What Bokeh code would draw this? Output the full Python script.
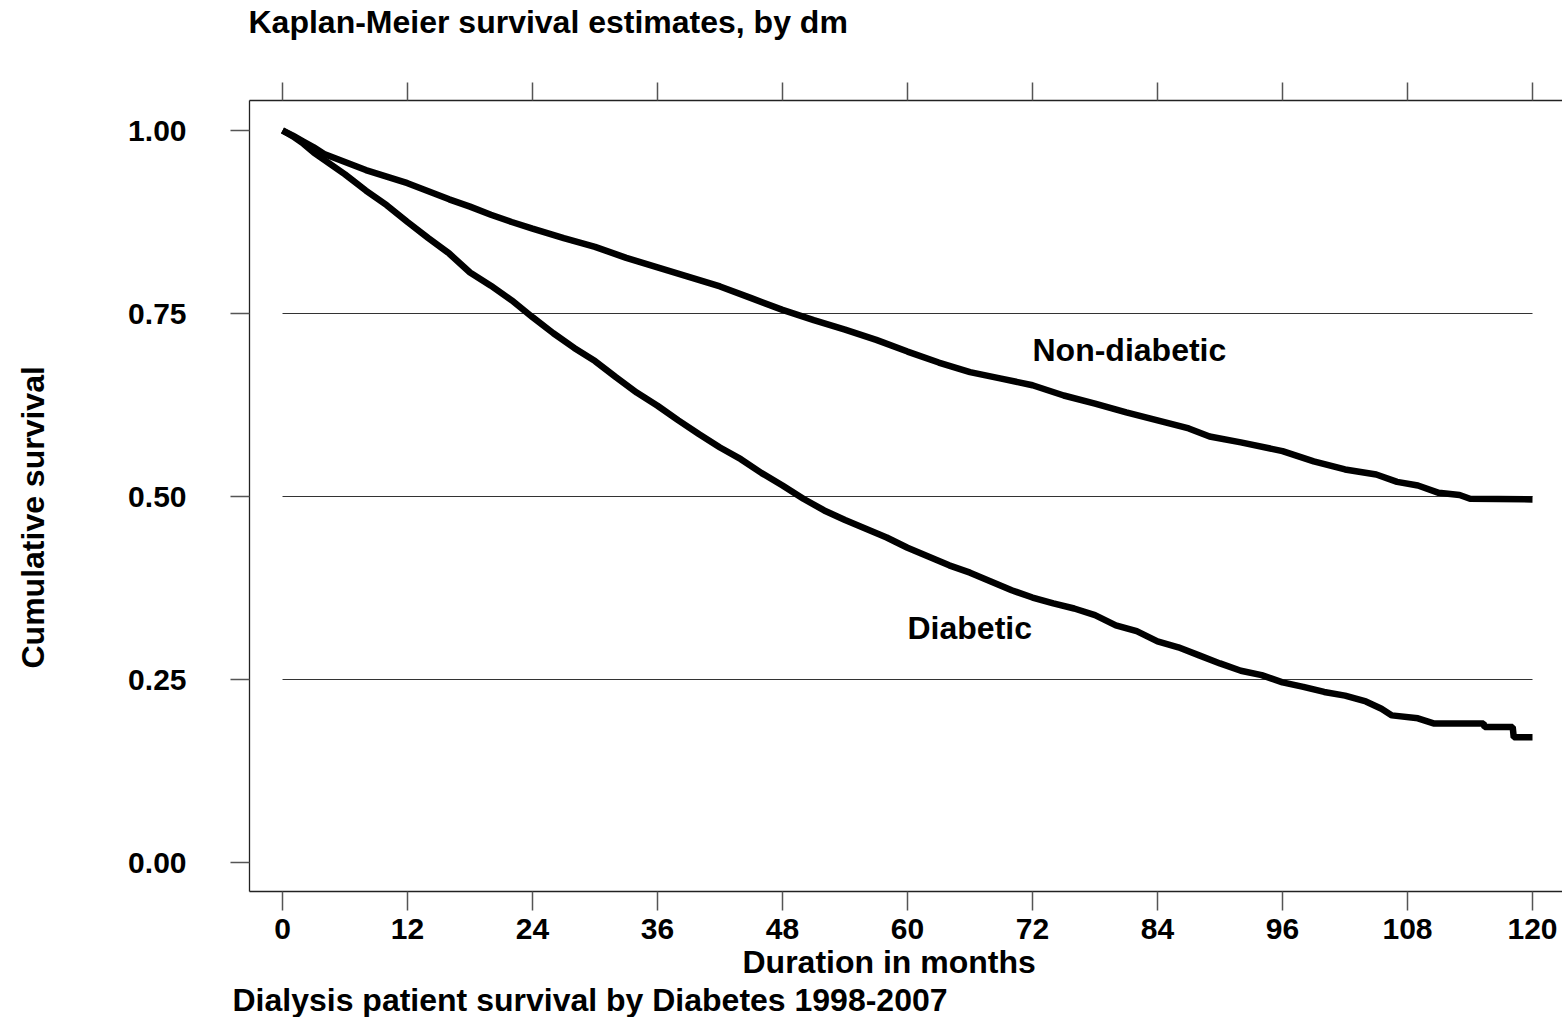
from bokeh.plotting import figure
from bokeh.models import Range1d, FixedTicker, LinearAxis, NumeralTickFormatter, Label, Title
from bokeh.embed import file_html
from bokeh.resources import INLINE

# ---- data ----
nondiab_months = [0, 1, 2, 3, 4, 6, 8, 10, 12, 14, 16, 18, 20, 22, 24, 27, 30, 33, 36, 39, 42, 45,
                  48, 51, 54, 57, 60, 63, 66, 69, 72, 75, 78, 81, 84, 87, 89, 92, 96, 99, 102, 105,
                  107, 109, 111, 113, 114, 120]
nondiab_surv = [1.000, 0.993, 0.985, 0.977, 0.968, 0.957, 0.946, 0.937, 0.928, 0.917, 0.906, 0.896,
                0.885, 0.875, 0.866, 0.853, 0.841, 0.826, 0.813, 0.800, 0.787, 0.771, 0.755, 0.741,
                0.728, 0.714, 0.698, 0.683, 0.670, 0.661, 0.652, 0.638, 0.627, 0.615, 0.604, 0.593,
                0.582, 0.574, 0.562, 0.548, 0.537, 0.530, 0.520, 0.515, 0.505, 0.502, 0.497, 0.496]

diab_months = [0, 1, 2, 3, 4, 6, 8, 10, 12, 14, 16, 18, 20, 22, 24, 26, 28, 30, 32, 34, 36, 38, 40,
               42, 44, 46, 48, 50, 52, 54, 56, 58, 60, 62, 64, 66, 68, 70, 72, 74, 76, 78, 80, 82,
               84, 86, 88, 90, 92, 94, 96, 98, 100, 102, 104, 105.5, 106.5, 109, 110.5, 115.3,
               115.4, 118.1, 118.2, 120]
diab_surv = [1.000, 0.992, 0.982, 0.970, 0.960, 0.940, 0.918, 0.898, 0.875, 0.853, 0.832, 0.806,
             0.788, 0.768, 0.745, 0.723, 0.703, 0.685, 0.663, 0.642, 0.624, 0.604, 0.585, 0.567,
             0.551, 0.532, 0.515, 0.497, 0.481, 0.468, 0.456, 0.444, 0.430, 0.418, 0.406, 0.396,
             0.384, 0.372, 0.362, 0.354, 0.347, 0.338, 0.324, 0.316, 0.302, 0.294, 0.283, 0.272,
             0.262, 0.256, 0.246, 0.240, 0.233, 0.228, 0.220, 0.210, 0.201, 0.197, 0.190, 0.190,
             0.185, 0.185, 0.171, 0.171]

x_ticks = [0, 12, 24, 36, 48, 60, 72, 84, 96, 108, 120]
y_ticks = [0.0, 0.25, 0.5, 0.75, 1.0]
grid_vals = [0.25, 0.5, 0.75]

title_text = "Kaplan-Meier survival estimates, by dm"
xlabel_text = "Duration in months"
ylabel_text = "Cumulative survival"
caption_text = "Dialysis patient survival by Diabetes 1998-2007"
curve_labels = ["Non-diabetic", "Diabetic"]
curve_label_x = [72, 60]
curve_label_y = [0.70, 0.32]

FONT = "Liberation Sans"

p = figure(width=1562, height=1017, output_backend="svg", toolbar_location=None,
           x_range=Range1d(-3.17, 122.88), y_range=Range1d(-0.0396, 1.041),
           min_border_left=249, min_border_right=0, min_border_top=100, min_border_bottom=126,
           x_axis_location=None, y_axis_location=None)
p.outline_line_color = None
p.xgrid.visible = False
p.ygrid.visible = False
p.background_fill_color = "white"
p.border_fill_color = "white"

def style_axis(ax, tick_out, label_size, standoff):
    ax.axis_line_color = "#222222"
    ax.axis_line_width = 1.3
    ax.major_tick_line_color = "#555555"
    ax.major_tick_line_width = 1.5
    ax.major_tick_out = tick_out
    ax.major_tick_in = 0
    ax.minor_tick_line_color = None
    ax.major_label_text_font = FONT
    ax.major_label_text_font_style = "bold"
    ax.major_label_text_font_size = label_size
    ax.major_label_text_color = "black"
    ax.major_label_standoff = standoff

def spacer_label(ax, text, standoff):
    # undrawn axis label that only reserves room between the axis and an outer title
    ax.axis_label = text
    ax.axis_label_text_font = FONT
    ax.axis_label_text_font_style = "bold"
    ax.axis_label_text_font_size = "32px"
    ax.axis_label_text_color = None
    ax.axis_label_standoff = standoff

bottom = LinearAxis(ticker=FixedTicker(ticks=x_ticks))
style_axis(bottom, 19, "30px", 8)
p.add_layout(bottom, "below")

top = LinearAxis(ticker=FixedTicker(ticks=x_ticks))
style_axis(top, 18, "0px", 0)
top.major_label_text_color = None
spacer_label(top, title_text, 4)
p.add_layout(top, "above")

left = LinearAxis(ticker=FixedTicker(ticks=y_ticks), formatter=NumeralTickFormatter(format="0.00"))
style_axis(left, 19, "30px", 44)
spacer_label(left, ylabel_text, 36)
p.add_layout(left, "left")

# texts around the frame
p.add_layout(Title(text=title_text, align="left", offset=-1, standoff=0,
                   text_font=FONT, text_font_style="bold", text_font_size="32px",
                   text_color="black"), "above")
p.add_layout(Title(text=ylabel_text, align="left", offset=223, standoff=0,
                   text_font=FONT, text_font_style="bold", text_font_size="32px",
                   text_color="black"), "left")
p.add_layout(Title(text=xlabel_text, align="left", offset=493, standoff=0,
                   text_font=FONT, text_font_style="bold", text_font_size="32px",
                   text_color="black"), "below")
p.add_layout(Title(text=caption_text, align="left", offset=-17, standoff=0,
                   text_font=FONT, text_font_style="bold", text_font_size="32px",
                   text_color="black"), "below")

# horizontal reference lines
p.segment(x0=[x_ticks[0]] * len(grid_vals), x1=[x_ticks[-1]] * len(grid_vals),
          y0=grid_vals, y1=grid_vals, line_color="#333333", line_width=1.2)

p.line(nondiab_months, nondiab_surv, line_color="black", line_width=6.5)
p.line(diab_months, diab_surv, line_color="black", line_width=6.5)

for t, lx, ly in zip(curve_labels, curve_label_x, curve_label_y):
    p.add_layout(Label(x=lx, y=ly, text=t, text_font=FONT, text_font_style="bold",
                       text_font_size="32px", text_align="left", text_baseline="middle",
                       text_color="black"))

open("out.html", "w").write(file_html(p, INLINE))
